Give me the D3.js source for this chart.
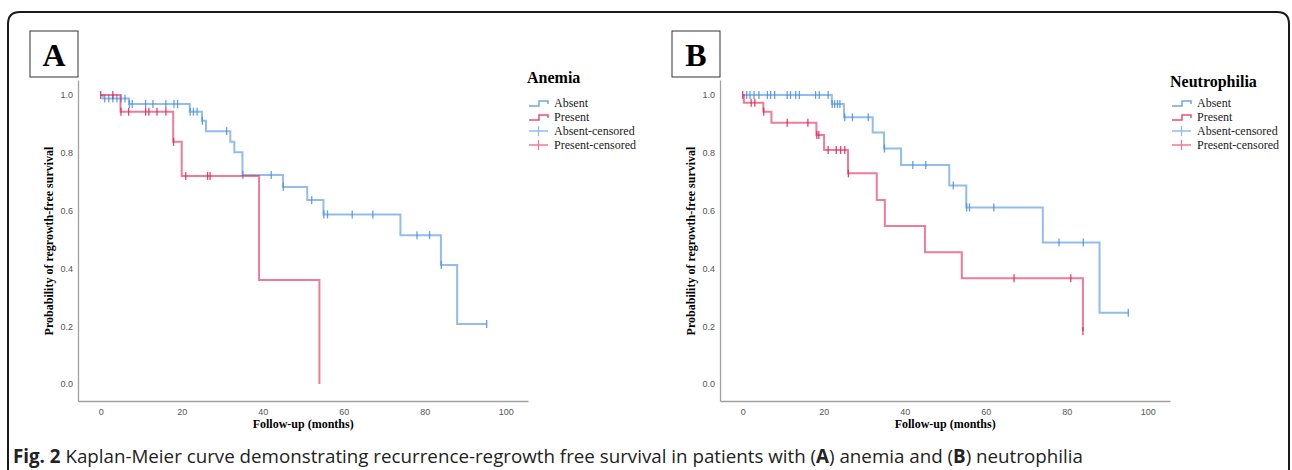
<!DOCTYPE html>
<html>
<head>
<meta charset="utf-8">
<script src="https://cdn.jsdelivr.net/npm/d3@7"></script>
<style>
  body { margin: 0; background: #fff; }
  svg { display: block; }
</style>
</head>
<body>
<div class="chart"></div>
<script>
// ---- data ----
const yTicks = [0, 0.2, 0.4, 0.6, 0.8, 1.0]
const xTicks = [0, 20, 40, 60, 80, 100]
const legendLabels = ['Absent', 'Present', 'Absent-censored', 'Present-censored']

// panel A: anemia
const anemiaAbsentTime = [0, 0.5, 7, 22, 25, 26, 32, 33, 35, 45, 51, 55, 74, 84, 88]
const anemiaAbsentSurv = [1, 0.988, 0.969, 0.942, 0.911, 0.875, 0.838, 0.802, 0.723, 0.682, 0.637, 0.587, 0.515, 0.412, 0.208]
const anemiaAbsentEnd = 95.3
const anemiaAbsentCensor = [1, 2, 3, 4, 5, 6, 7.1, 7.8, 11.1, 12.9, 16.1, 18.1, 19, 22.1, 22.9, 23.8, 25.1, 31.1, 35.1, 42.1, 45.1, 52.1, 55.1, 56, 62.1, 67.2, 78.1, 81.2, 84.1, 95.3]

const anemiaPresentTime = [0, 4.9, 17.9, 20, 39.1, 54]
const anemiaPresentSurv = [1, 0.942, 0.838, 0.72, 0.36, 0]
const anemiaPresentEnd = 54
const anemiaPresentCensor = [0, 3, 5, 6.9, 11.1, 11.9, 13.9, 16.1, 18, 21, 26.4, 27]

// panel B: neutrophilia
const neutroAbsentTime = [0, 22, 25, 32.1, 34.9, 39.1, 51, 55.2, 74.1, 88.1]
const neutroAbsentSurv = [1, 0.969, 0.923, 0.87, 0.815, 0.758, 0.687, 0.611, 0.49, 0.247]
const neutroAbsentEnd = 95.2
const neutroAbsentCensor = [1, 1.8, 2.8, 4, 6.1, 6.9, 7.9, 11, 11.8, 13.1, 14, 18, 18.9, 21.1, 22.1, 22.7, 23.4, 24, 25.2, 27.1, 31, 35, 42, 45.2, 52, 55.3, 56, 62, 78.1, 84.1, 95.2]

const neutroPresentTime = [0, 0.3, 5.1, 7.1, 18.2, 20.1, 26, 33.1, 35.1, 45, 54.1, 84]
const neutroPresentSurv = [1, 0.973, 0.942, 0.904, 0.862, 0.81, 0.729, 0.637, 0.547, 0.456, 0.366, 0.183]
const neutroPresentEnd = 84
const neutroPresentCensor = [0, 2.1, 3, 5.2, 11, 16.1, 18.3, 18.8, 21.1, 23.1, 24.2, 25.2, 26.1, 67, 81, 84]

const blue = '#4a8fe3'
const red = '#df2452'
const serif = '"Liberation Serif", "Times New Roman", serif'
const sans = '"Liberation Sans", Arial, sans-serif'

const W = 1292
const H = 470

const svg = d3.select('.chart')
  .append('svg')
  .attr('width', W)
  .attr('height', H)

// outer figure frame
svg.append('path')
  .attr('d', 'M8,480 V24 Q8,12 20,12 H1277 Q1289,12 1289,24 V480')
  .attr('fill', 'none')
  .attr('stroke', '#1a1a1a')
  .attr('stroke-width', 2)

const stepValue = (times, surv, t) => {
  let v = surv[0]
  times.forEach((tt, i) => { if (tt <= t) v = surv[i] })
  return v
}

const drawPanel = (opts) => {
  const g = svg.append('g')
  const left = opts.left
  const x = d3.scaleLinear().domain([-5.6, 105.5]).range([left, left + 450])
  const y = d3.scaleLinear().domain([-0.0588, 1.052]).range([401, 80])

  // letter box
  g.append('rect')
    .attr('x', left - 48).attr('y', 31)
    .attr('width', 48).attr('height', 46)
    .attr('fill', '#fff').attr('stroke', '#333').attr('stroke-width', 1)
  g.append('text')
    .attr('x', left - 24).attr('y', 66)
    .attr('text-anchor', 'middle')
    .style('font-family', serif).style('font-weight', 'bold').style('font-size', '32px')
    .text(opts.letter)

  const yAxis = d3.axisLeft(y).tickValues(yTicks).tickSize(0).tickSizeOuter(0).tickPadding(5)
    .tickFormat(d3.format('.1f'))
  const xAxis = d3.axisBottom(x).tickValues(xTicks).tickSize(0).tickSizeOuter(0).tickPadding(8)

  const ya = g.append('g').attr('transform', `translate(${left},0)`).call(yAxis)
  const xa = g.append('g').attr('transform', 'translate(0,401)').call(xAxis)
  ;[ya, xa].forEach(a => {
    a.select('.domain').attr('stroke', '#a0a0a0').attr('stroke-width', 1.3)
    a.selectAll('text').attr('fill', '#555').style('font-family', sans).style('font-size', '9px')
  })

  g.append('text')
    .attr('x', x(50)).attr('y', 428)
    .attr('text-anchor', 'middle')
    .style('font-family', serif).style('font-weight', 'bold').style('font-size', '12px')
    .text('Follow-up (months)')
  g.append('text')
    .attr('transform', `translate(${left - 25},241) rotate(-90)`)
    .attr('text-anchor', 'middle')
    .style('font-family', serif).style('font-weight', 'bold').style('font-size', '12px')
    .text('Probability of regrowth-free survival')

  const line = d3.line().x(d => x(d[0])).y(d => y(d[1])).curve(d3.curveStepAfter)

  opts.series.forEach(s => {
    const pts = s.time.map((t, i) => [t, s.surv[i]])
    pts.push([s.end, s.surv[s.surv.length - 1]])
    g.append('path')
      .attr('d', line(pts))
      .attr('fill', 'none')
      .attr('stroke', s.color)
      .attr('stroke-width', 2)
      .attr('stroke-opacity', 0.6)
    g.selectAll(null)
      .data(s.censor)
      .enter()
      .append('line')
      .attr('x1', d => x(d)).attr('x2', d => x(d))
      .attr('y1', d => y(stepValue(s.time, s.surv, d)) - 4)
      .attr('y2', d => y(stepValue(s.time, s.surv, d)) + 4)
      .attr('stroke', s.color)
      .attr('stroke-width', 1.3)
      .attr('stroke-opacity', 0.85)
  })

  // legend
  const lg = g.append('g').attr('transform', `translate(${opts.legendX},0)`)
  lg.append('text')
    .attr('x', -2).attr('y', opts.titleY)
    .style('font-family', serif).style('font-weight', 'bold').style('font-size', '16px')
    .text(opts.title)
  legendLabels.forEach((lab, i) => {
    const cy = 103 + i * 14
    const col = i % 2 === 0 ? blue : red
    if (i < 2) {
      lg.append('path')
        .attr('d', `M0,${cy + 3} H10 V${cy - 2} H19 V${cy + 1}`)
        .attr('fill', 'none').attr('stroke', col).attr('stroke-width', 1.5).attr('stroke-opacity', 0.8)
    } else {
      lg.append('path')
        .attr('d', `M0,${cy} H19 M9.5,${cy - 5} V${cy + 5}`)
        .attr('fill', 'none').attr('stroke', col).attr('stroke-width', 1.3).attr('stroke-opacity', 0.6)
    }
    lg.append('text')
      .attr('x', 25).attr('y', cy + 4)
      .style('font-family', serif).style('font-size', '12px')
      .attr('fill', '#222')
      .text(lab)
  })
}

drawPanel({
  left: 78, letter: 'A', title: 'Anemia', legendX: 529, titleY: 83,
  series: [
    { time: anemiaAbsentTime, surv: anemiaAbsentSurv, end: anemiaAbsentEnd, censor: anemiaAbsentCensor, color: blue },
    { time: anemiaPresentTime, surv: anemiaPresentSurv, end: anemiaPresentEnd, censor: anemiaPresentCensor, color: red }
  ]
})

drawPanel({
  left: 720, letter: 'B', title: 'Neutrophilia', legendX: 1172, titleY: 87,
  series: [
    { time: neutroAbsentTime, surv: neutroAbsentSurv, end: neutroAbsentEnd, censor: neutroAbsentCensor, color: blue },
    { time: neutroPresentTime, surv: neutroPresentSurv, end: neutroPresentEnd, censor: neutroPresentCensor, color: red }
  ]
})

// caption
const cap = svg.append('text')
  .attr('x', 13).attr('y', 463)
  .style('font-family', '"Open Sans", sans-serif')
  .style('font-size', '17px')
  .attr('fill', '#222')
const parts = [['Fig. 2', true], [' Kaplan-Meier curve demonstrating recurrence-regrowth free survival in patients with (', false],
  ['A', true], [') anemia and (', false], ['B', true], [') neutrophilia', false]]
parts.forEach(p => {
  cap.append('tspan').style('font-weight', p[1] ? 'bold' : 'normal').text(p[0])
})
const capW = cap.node().getComputedTextLength()
cap.style('font-size', (17 * 1070 / capW).toFixed(2) + 'px')
</script>
</body>
</html>
